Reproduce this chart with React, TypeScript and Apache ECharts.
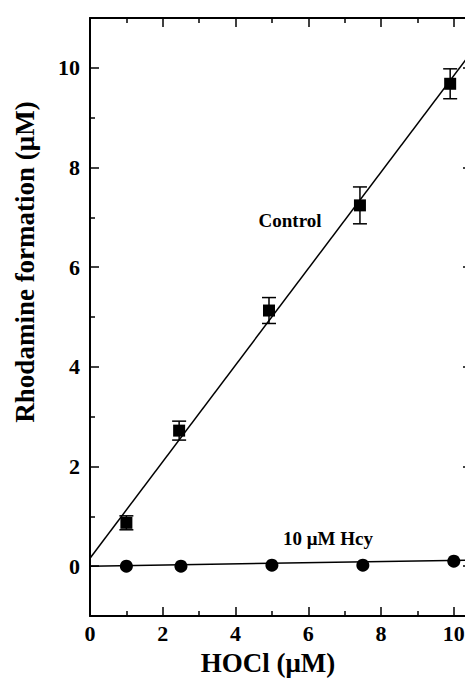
import React, { useEffect, useRef } from "react";
import * as echarts from "echarts";

const controlX = [1, 2.45, 4.92, 7.42, 9.9];
const controlY = [0.87, 2.72, 5.13, 7.24, 9.68];
const controlErr = [0.14, 0.19, 0.26, 0.37, 0.3];
const hcyX = [1, 2.5, 5, 7.5, 10];
const hcyY = [0.0, 0.0, 0.02, 0.02, 0.1];
const controlFit = [[0, 0.16], [10.5, 10.33]];
const hcyFit = [[0, 0.0], [10.5, 0.12]];
const xMajor = [0, 2, 4, 6, 8, 10];
const xMinor = [1, 3, 5, 7, 9];
const yMajor = [0, 2, 4, 6, 8, 10];
const yMinor = [-1, 1, 3, 5, 7, 9, 11];

const FONT = "'Liberation Serif', 'Times New Roman', serif";

export default function App() {
  const ref = useRef<HTMLDivElement>(null);
  useEffect(() => {
    if (!ref.current) return;
    const chart = echarts.init(ref.current, undefined, { renderer: "svg" });
    const lineStyle = { color: "#000", width: 2 };
    const tickMajor = (vals: number[]) => ({
      show: true,
      inside: true,
      length: 9,
      customValues: vals,
      lineStyle: { color: "#000", width: 1.5 },
    });
    const tickMinor = (vals: number[]) => ({
      show: true,
      inside: true,
      length: 5,
      customValues: vals,
      lineStyle: { color: "#000", width: 1.5 },
    });
    const labelStyle = {
      color: "#000",
      fontFamily: FONT,
      fontWeight: "bold" as const,
      fontSize: 22,
    };
    const xBase = { type: "value" as const, min: 0, max: 10.5, splitLine: { show: false } };
    const yBase = { type: "value" as const, min: -1, max: 11, splitLine: { show: false } };
    const line = (show: boolean) => ({ show, onZero: false, lineStyle });
    const option: any = {
      animation: false,
      backgroundColor: "#fff",
      grid: { left: 90, top: 18, width: 382, height: 598, outerBoundsMode: "none" },
      xAxis: [
        {
          ...xBase,
          position: "bottom",
          axisLine: line(true),
          axisTick: tickMajor(xMajor),
          axisLabel: { ...labelStyle, margin: 6, customValues: xMajor },
        },
        {
          ...xBase,
          position: "bottom",
          axisLine: line(false),
          axisTick: tickMinor(xMinor),
          axisLabel: { show: false },
        },
        {
          ...xBase,
          position: "top",
          axisLine: line(true),
          axisTick: tickMajor(xMajor),
          axisLabel: { show: false },
        },
        {
          ...xBase,
          position: "top",
          axisLine: line(false),
          axisTick: tickMinor(xMinor),
          axisLabel: { show: false },
        },
      ],
      yAxis: [
        {
          ...yBase,
          position: "left",
          axisLine: line(true),
          axisTick: tickMajor(yMajor),
          axisLabel: { ...labelStyle, margin: 10, customValues: yMajor },
        },
        {
          ...yBase,
          position: "left",
          axisLine: line(false),
          axisTick: tickMinor(yMinor),
          axisLabel: { show: false },
        },
        {
          ...yBase,
          position: "right",
          axisLine: line(true),
          axisTick: tickMajor(yMajor),
          axisLabel: { show: false },
        },
        {
          ...yBase,
          position: "right",
          axisLine: line(false),
          axisTick: tickMinor(yMinor),
          axisLabel: { show: false },
        },
      ],
      graphic: [
        {
          type: "text",
          x: 268,
          y: 663,
          style: {
            text: "HOCl (μM)",
            font: `bold 27px ${FONT}`,
            fill: "#000",
            align: "center",
            verticalAlign: "middle",
          },
        },
        {
          type: "text",
          x: 25,
          y: 262,
          rotation: Math.PI / 2,
          style: {
            text: "Rhodamine formation (μM)",
            font: `bold 27px ${FONT}`,
            fill: "#000",
            align: "center",
            verticalAlign: "middle",
          },
        },
        {
          type: "text",
          x: 290,
          y: 220,
          style: {
            text: "Control",
            font: `bold 19px ${FONT}`,
            fill: "#000",
            align: "center",
            verticalAlign: "middle",
          },
        },
        {
          type: "text",
          x: 328,
          y: 538,
          style: {
            text: "10 μM Hcy",
            font: `bold 19px ${FONT}`,
            fill: "#000",
            align: "center",
            verticalAlign: "middle",
          },
        },
      ],
      series: [
        {
          type: "line",
          data: controlFit,
          symbol: "none",
          lineStyle: { color: "#000", width: 1.5 },
          xAxisIndex: 0,
          yAxisIndex: 0,
          clip: true,
        },
        {
          type: "line",
          data: hcyFit,
          symbol: "none",
          lineStyle: { color: "#000", width: 1.5 },
          xAxisIndex: 0,
          yAxisIndex: 0,
          clip: true,
        },
        {
          type: "custom",
          xAxisIndex: 0,
          yAxisIndex: 0,
          data: controlX.map((x, i) => [x, controlY[i] - controlErr[i], controlY[i] + controlErr[i]]),
          encode: { x: 0, y: [1, 2] },
          renderItem: (_p: any, api: any) => {
            const x = api.value(0);
            const lo = api.coord([x, api.value(1)]);
            const hi = api.coord([x, api.value(2)]);
            const hw = 7;
            const st = { stroke: "#000", lineWidth: 1.5 };
            return {
              type: "group",
              children: [
                { type: "line", shape: { x1: lo[0], y1: lo[1], x2: hi[0], y2: hi[1] }, style: st },
                { type: "line", shape: { x1: lo[0] - hw, y1: lo[1], x2: lo[0] + hw, y2: lo[1] }, style: st },
                { type: "line", shape: { x1: hi[0] - hw, y1: hi[1], x2: hi[0] + hw, y2: hi[1] }, style: st },
              ],
            };
          },
        },
        {
          type: "scatter",
          data: controlX.map((x, i) => [x, controlY[i]]),
          symbol: "rect",
          symbolSize: 12,
          itemStyle: { color: "#000", opacity: 1 },
          xAxisIndex: 0,
          yAxisIndex: 0,
        },
        {
          type: "scatter",
          data: hcyX.map((x, i) => [x, hcyY[i]]),
          symbol: "circle",
          symbolSize: 13,
          itemStyle: { color: "#000", opacity: 1 },
          xAxisIndex: 0,
          yAxisIndex: 0,
        },
      ],
    };
    chart.setOption(option);
    return () => chart.dispose();
  }, []);
  return (
    <div
      ref={ref}
      style={{ position: "fixed", left: 0, top: 0, width: 465, height: 687, background: "#fff" }}
    />
  );
}
